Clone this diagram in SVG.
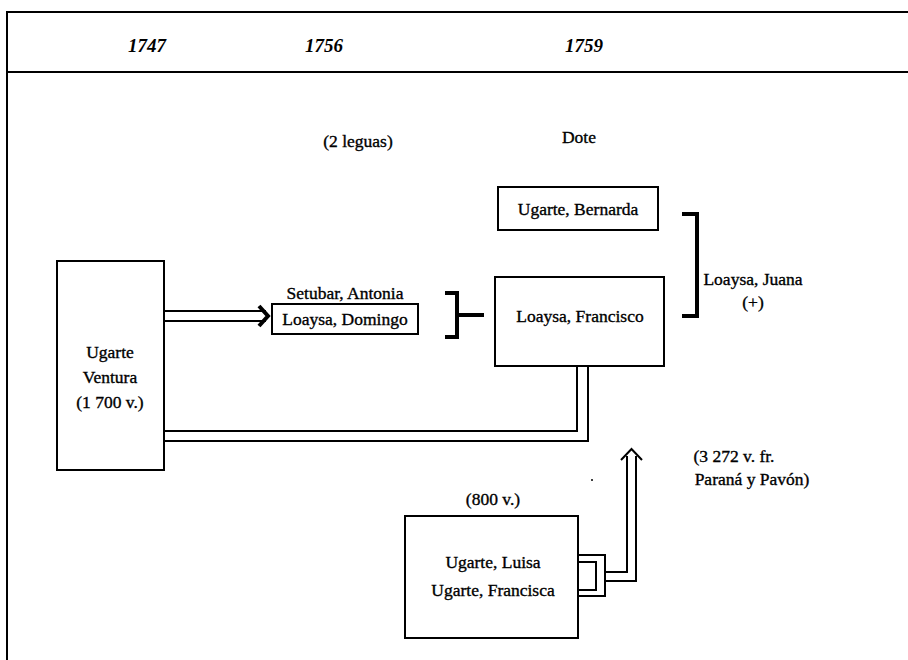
<svg xmlns="http://www.w3.org/2000/svg" width="908" height="660" viewBox="0 0 908 660">
<style>
.t{font-family:"Liberation Serif","Times New Roman",serif;font-size:17.5px;fill:#000;stroke:#000;stroke-width:0.35;text-anchor:middle}
.y{font-family:"Liberation Serif","Times New Roman",serif;font-size:19px;font-style:italic;font-weight:bold;fill:#000}
.box{fill:#fff;stroke:#000;stroke-width:2}
.ln{fill:none;stroke:#000;stroke-width:2}
.br{fill:none;stroke:#000;stroke-width:4}
</style>
<rect width="908" height="660" fill="#fff"/>
<g id="frame">
<line x1="6" y1="12" x2="908" y2="12" class="ln" stroke-width="2.5"/>
<line x1="6" y1="72" x2="908" y2="72" class="ln" stroke-width="2.5"/>
<line x1="7" y1="12" x2="7" y2="660" class="ln"/>
<text class="y" x="128" y="52">1747</text>
<text class="y" x="305" y="52">1756</text>
<text class="y" x="565" y="52">1759</text>
</g>
<g id="labels">
<text class="t" x="358" y="147">(2 leguas)</text>
<text class="t" x="579" y="143">Dote</text>
<text class="t" x="345" y="299">Setubar, Antonia</text>
<text class="t" x="753" y="285">Loaysa, Juana</text>
<text class="t" x="753" y="308">(+)</text>
<text class="t" x="493" y="505">(800 v.)</text>
<text class="t" x="734" y="462">(3 272 v. fr.</text>
<text class="t" x="752" y="485">Paraná y Pavón)</text>
</g>
<g id="connectors">
<path class="ln" d="M164 311 H266 M164 321 H266"/>
<path class="br" d="M259 306 L268 316 L259 326" stroke-width="3"/>
<path class="br" d="M445 293 H457 V337 H445 M457 315 H484"/>
<path class="br" d="M682 214 H697 V316 H682"/>
<path class="ln" d="M164 431 H577 V366 M164 441 H588 V366"/>
<path class="ln" d="M578 555 H605 V596 H578 M578 562 H596 V590 H578"/>
<path class="ln" d="M605 572 H627 V456 M605 581 H636 V456"/>
<path class="ln" d="M621 460 L631.5 449 L642 460" stroke-width="3"/>
<circle cx="592" cy="480" r="1" fill="#000"/>
</g>
<g id="ugarte-ventura">
<rect class="box" x="57" y="261" width="107" height="209"/>
<text class="t" x="110" y="358">Ugarte</text>
<text class="t" x="110" y="383">Ventura</text>
<text class="t" x="110" y="408">(1 700 v.)</text>
</g>
<g id="loaysa-domingo">
<rect class="box" x="272" y="304" width="146" height="30"/>
<text class="t" x="345" y="325">Loaysa, Domingo</text>
</g>
<g id="ugarte-bernarda">
<rect class="box" x="498" y="187" width="160" height="43"/>
<text class="t" x="578" y="215">Ugarte, Bernarda</text>
</g>
<g id="loaysa-francisco">
<rect class="box" x="495" y="277" width="169" height="89"/>
<text class="t" x="580" y="322">Loaysa, Francisco</text>
</g>
<g id="ugarte-luisa-francisca">
<rect class="box" x="405" y="516" width="173" height="122"/>
<text class="t" x="493" y="568">Ugarte, Luisa</text>
<text class="t" x="493" y="596">Ugarte, Francisca</text>
</g>
</svg>
